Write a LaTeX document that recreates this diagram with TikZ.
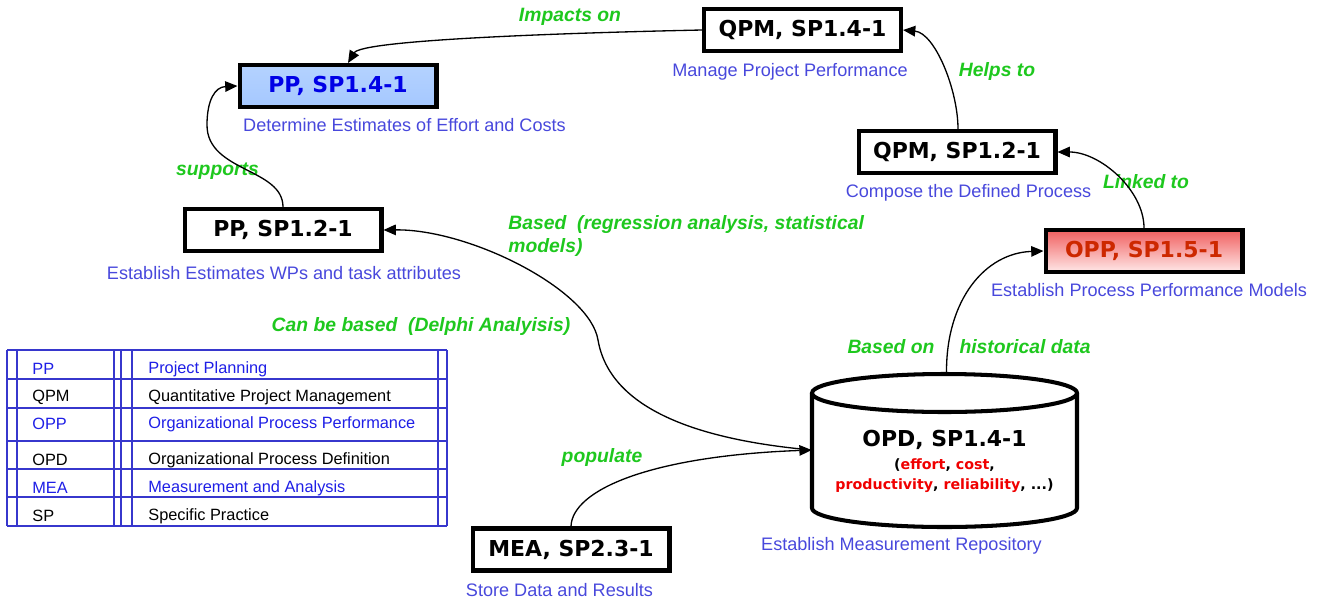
\documentclass[tikz,border=0pt]{standalone}
\usepackage{fontspec}
\setmainfont{Liberation Sans}
\newfontfamily\vfont{DejaVu Sans}
\usetikzlibrary{arrows.meta,calc}
\definecolor{captblue}{RGB}{72,72,220}
\definecolor{lgreen}{RGB}{30,200,30}
\definecolor{tblue}{RGB}{55,55,205}
\definecolor{ltext}{RGB}{30,30,230}
\definecolor{ppblue}{RGB}{0,0,230}
\definecolor{oppred}{RGB}{205,40,0}
\definecolor{oppfillA}{RGB}{240,95,95}
\definecolor{oppfillB}{RGB}{255,232,232}
\definecolor{ppfillA}{RGB}{180,210,255}
\definecolor{ppfillM}{RGB}{235,243,255}
\definecolor{ppfillB}{RGB}{165,200,255}
\definecolor{wordred}{RGB}{240,0,0}
\tikzset{
  pbox/.style={draw, line width=2.3pt, fill=white, minimum width=3.94cm, minimum height=0.84cm,
    inner sep=0pt, font=\vfont\bfseries\fontsize{12.5}{14}\selectfont},
  capt/.style={text=captblue, inner sep=0pt, font=\fontsize{10.3}{12}\selectfont},
  glab/.style={text=lgreen, inner sep=0pt, font=\bfseries\itshape\fontsize{11}{13}\selectfont},
  conn/.style={line width=0.75pt, -{Triangle[length=7pt,width=6pt]}},
  tline/.style={draw=tblue, line width=1.2pt},
  ltxt/.style={anchor=west, inner sep=0pt, font=\fontsize{9.3}{11}\selectfont},
  cyl/.style={line width=2.3pt, fill=white}
}
\begin{document}
\begin{tikzpicture}[x=0.02cm,y=-0.02cm]
\useasboundingbox (0,0) rectangle (1324,602);

% boxes
\node[pbox, top color=ppfillA, middle color=ppfillM, bottom color=ppfillB, text=ppblue] (pp14) at (338,86) {PP, SP1.4-1};
\node[pbox] (qpm14) at (802.5,30) {QPM, SP1.4-1};
\node[pbox] (qpm12) at (957,152) {QPM, SP1.2-1};
\node[pbox, top color=oppfillA, bottom color=oppfillB, text=oppred] (opp15) at (1144,251) {OPP, SP1.5-1};
\node[pbox] (pp12) at (283,230) {PP, SP1.2-1};
\node[pbox] (mea) at (571,549.5) {MEA, SP2.3-1};

% cylinder
\draw[cyl] (812,393) -- (812,508) .. controls (812,518.5) and (871.3,527) .. (944.5,527)
  .. controls (1017.7,527) and (1077,518.5) .. (1077,508) -- (1077,393);
\draw[cyl] (944.5,393) ellipse [x radius=2.65cm, y radius=0.38cm];
\node[minimum width=5.3cm, minimum height=3.08cm, inner sep=0pt] (opd) at (944.5,450) {};
\node[inner sep=0pt, font=\vfont\bfseries\fontsize{12.5}{14}\selectfont] (opdt) at (944.5,440) {OPD, SP1.4-1};
\node[inner sep=0pt, align=center, font=\vfont\bfseries\fontsize{8.1}{11.3}\selectfont] (opdw) at (944.5,476)
  {(\textcolor{wordred}{effort}, \textcolor{wordred}{cost},\\
   \textcolor{wordred}{productivity}, \textcolor{wordred}{reliability}, ...)};

% captions
\node[capt] (c1) at (404.5,125) {Determine Estimates of Effort and Costs};
\node[capt] (c2) at (790,72) {Manage Project Performance};
\node[capt] (c3) at (968.5,193) {Compose the Defined Process};
\node[capt] (c4) at (1149,290) {Establish Process Performance Models};
\node[capt] (c5) at (284,273) {Establish Estimates WPs and task attributes};
\node[capt] (c6) at (901.5,546) {Establish Measurement Repository};
\node[capt] (c7) at (559.5,590) {Store Data and Results};

% green labels
\node[glab] (g1) at (570,17) {Impacts on};
\node[glab] (g2) at (997,72) {Helps to};
\node[glab] (g3) at (217.5,171) {supports};
\node[glab] (g4) at (1146,182) {Linked to};
\node[glab, anchor=west, align=left] (g5) at (508,236) {Based\ \ (regression analysis, statistical\\models)};
\node[glab] (g6) at (421,326) {Can be based\ \ (Delphi Analyisis)};
\node[glab] (g7) at (891,347) {Based on};
\node[glab] (g8) at (1025,347) {historical data};
\node[glab] (g9) at (602,457) {populate};

% connectors
\draw[conn] (qpm14.west) .. controls (560,33) and (362,40) .. ($(pp14.north)+(10,0)$);
\draw[conn] ($(qpm12.north)+(1,0)$) .. controls (958,90) and (935,33) .. (qpm14.east);
\draw[conn] (opp15.north) .. controls (1144,190) and (1100,152) .. (qpm12.east);
\draw[conn] ($(opd.north)+(2,0)$) .. controls (946,300) and (985,253) .. (opp15.west);
\coordinate (sbend) at (207,125);
\draw[conn] (pp12.north) .. controls (283,168) and (207,172) .. (sbend)
  .. controls (207,100) and (215,87) .. (pp14.west);
\coordinate (dbend) at (598,340);
\draw[conn] (opd.west) .. controls (700,440) and (610,410) .. (dbend)
  .. controls (590,290) and (470,229) .. (pp12.east);
\draw[conn] (mea.north) .. controls (572,490) and (650,456) .. (opd.west);

% legend table
\foreach \x in {7,17,114,121,132,438,447} \draw[tline] (\x,350) -- (\x,526);
\foreach \y in {350,379,408,441,469,497,526} \draw[tline] (7,\y) -- (447,\y);
\node[ltxt, text=ltext] (l1a) at (32,369) {PP};
\node[ltxt, text=ltext] (l1b) at (148,369) {Project Planning};
\node[ltxt] (l2a) at (32,397) {QPM};
\node[ltxt] (l2b) at (148,397) {Quantitative Project Management};
\node[ltxt, text=ltext] (l3a) at (32,424) {OPP};
\node[ltxt, text=ltext] (l3b) at (148,424) {Organizational Process Performance};
\node[ltxt] (l4a) at (32,460) {OPD};
\node[ltxt] (l4b) at (148,460) {Organizational Process Definition};
\node[ltxt, text=ltext] (l5a) at (32,488) {MEA};
\node[ltxt, text=ltext] (l5b) at (148,488) {Measurement and Analysis};
\node[ltxt] (l6a) at (32,516) {SP};
\node[ltxt] (l6b) at (148,516) {Specific Practice};
\end{tikzpicture}
\end{document}
